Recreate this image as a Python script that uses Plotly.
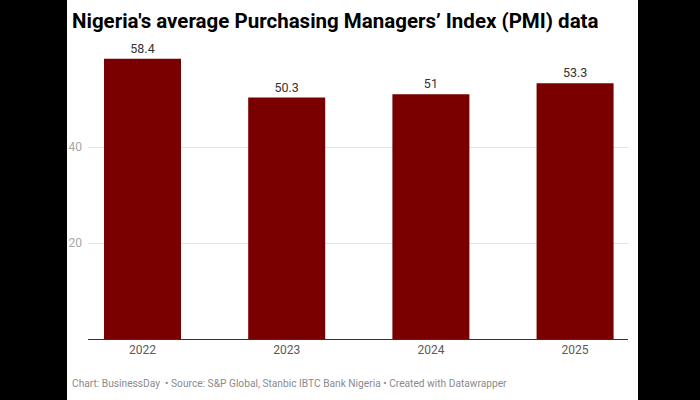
import plotly.graph_objects as go

years = ["2022", "2023", "2024", "2025"]
pmi = [58.4, 50.3, 51, 53.3]
value_labels = ["58.4", "50.3", "51", "53.3"]
y_ticks = [20, 40]

title_text = "Nigeria's average Purchasing Managers\u2019 Index (PMI) data"
footer_text = "Chart: BusinessDay  \u2022 Source: S&P Global, Stanbic IBTC Bank Nigeria \u2022 Created with Datawrapper"

W, H = 700, 400
L, R, T, B = 88, 72, 51, 61
pw = W - L - R
ph = H - T - B

fig = go.Figure()
fig.add_trace(go.Bar(
    x=years, y=pmi, width=0.534,
    marker=dict(color="#7a0000", line=dict(width=0)),
    text=value_labels, textposition="outside",
    textfont=dict(family="Roboto", size=12.5, color="#333333"),
    cliponaxis=False, hoverinfo="skip",
))

def px_to_paper(xp):
    return (xp - L) / pw

def py_to_paper(yp):
    return (H - B - yp) / ph

fig.add_shape(type="rect", xref="paper", yref="paper",
              x0=px_to_paper(-5), x1=px_to_paper(67), y0=py_to_paper(405), y1=py_to_paper(-5),
              fillcolor="black", line=dict(width=0), layer="below")
fig.add_shape(type="rect", xref="paper", yref="paper",
              x0=px_to_paper(638), x1=px_to_paper(705), y0=py_to_paper(405), y1=py_to_paper(-5),
              fillcolor="black", line=dict(width=0), layer="below")

fig.add_annotation(text="<b>" + title_text + "</b>", xref="paper", yref="paper",
                   x=px_to_paper(69.5), y=py_to_paper(20.5),
                   xanchor="left", yanchor="middle", showarrow=False,
                   font=dict(family="Roboto", size=20.5, color="#000000"))
fig.add_annotation(text=footer_text, xref="paper", yref="paper",
                   x=px_to_paper(69.5), y=py_to_paper(383),
                   xanchor="left", yanchor="middle", showarrow=False,
                   font=dict(family="Roboto", size=10.2, color="#8a8a8a"))

fig.update_layout(
    width=W, height=H,
    margin=dict(l=L, r=R, t=T, b=B, pad=0),
    paper_bgcolor="white", plot_bgcolor="white",
    showlegend=False,
    font=dict(family="Roboto"),
    xaxis=dict(range=[-0.378, 3.367], showgrid=False, showline=True,
               linecolor="#333333", linewidth=1, ticks="",
               tickfont=dict(family="Roboto", size=12, color="#5a5a5a"),
               zeroline=False),
    yaxis=dict(range=[0, 60], tickvals=y_ticks, showgrid=True,
               gridcolor="#e3e3e3", gridwidth=1, zeroline=False,
               tickfont=dict(family="Roboto", size=12, color="#a6a6a6"),
               ticks="", ticklabelstandoff=5, showline=False),
)

fig.write_html("out.html", config={"displayModeBar": False},
               post_script="document.body.style.margin='0px';document.body.style.overflow='hidden';")
